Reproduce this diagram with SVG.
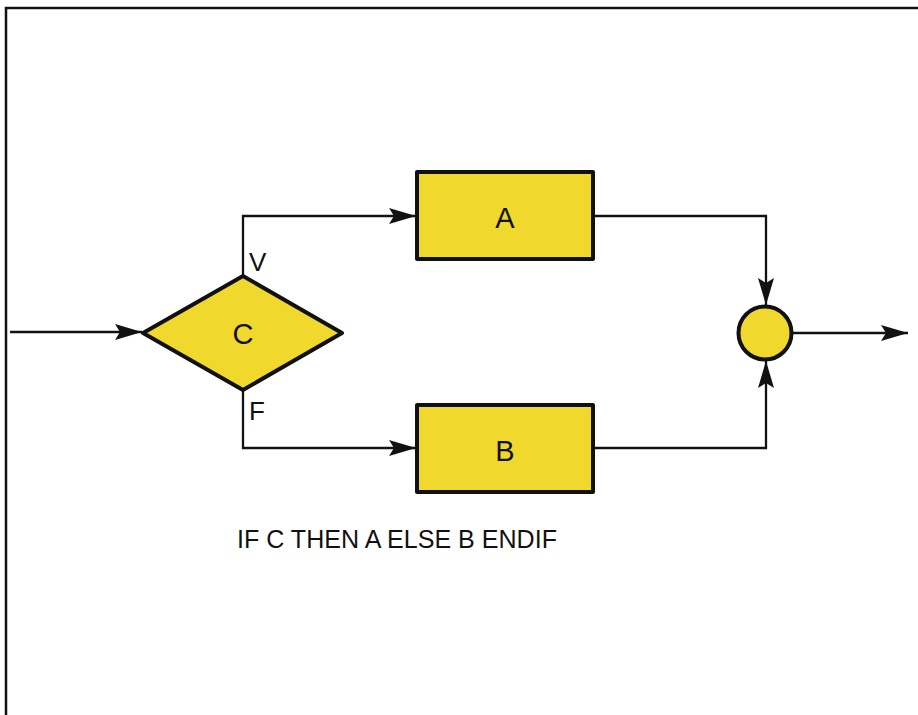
<svg xmlns="http://www.w3.org/2000/svg" width="918" height="715" viewBox="0 0 918 715">
<style>
.shape{fill:#f1d82c;stroke:#111;stroke-width:4;stroke-linejoin:round}
.conn{fill:none;stroke:#111;stroke-width:2.3}
text{font-family:"Liberation Sans",Arial,sans-serif;fill:#111}
.lbl{font-size:29px;text-anchor:middle}
.small{font-size:26px}
</style>
<defs>
<marker id="arr" viewBox="0 0 27 16" refX="27" refY="8" markerWidth="27" markerHeight="16" markerUnits="userSpaceOnUse" orient="auto">
<path d="M0,0 L27,8 L0,16 L5,8 Z" fill="#111"/>
</marker>
</defs>
<rect x="0" y="0" width="918" height="715" fill="#fff"/>
<path d="M6,715 V8 H918" fill="none" stroke="#111" stroke-width="2.5"/>
<g id="connectors">
<path class="conn" d="M10,332 H142" marker-end="url(#arr)"/>
<path class="conn" d="M243,276 V216 H416" marker-end="url(#arr)"/>
<path class="conn" d="M243,390 V448 H416" marker-end="url(#arr)"/>
<path class="conn" d="M594,216 H766 V305" marker-end="url(#arr)"/>
<path class="conn" d="M594,448 H766 V361" marker-end="url(#arr)"/>
<path class="conn" d="M792,333 H908" marker-end="url(#arr)"/>
</g>
<g id="node-C">
<polygon class="shape" points="143,333 243,276 342,333 243,390"/>
<text class="lbl" x="243" y="344">C</text>
</g>
<g id="label-V"><text class="small" x="249" y="271">V</text></g>
<g id="label-F"><text class="small" x="249" y="420">F</text></g>
<g id="node-A">
<rect class="shape" x="417" y="172" width="176" height="87"/>
<text class="lbl" x="505" y="228">A</text>
</g>
<g id="node-B">
<rect class="shape" x="417" y="405" width="176" height="87"/>
<text class="lbl" x="505" y="461">B</text>
</g>
<g id="node-join">
<circle class="shape" cx="765" cy="333" r="26.5"/>
</g>
<g id="caption">
<text x="237" y="548" font-size="26" textLength="320" lengthAdjust="spacingAndGlyphs">IF C  THEN A ELSE  B ENDIF</text>
</g>
</svg>
